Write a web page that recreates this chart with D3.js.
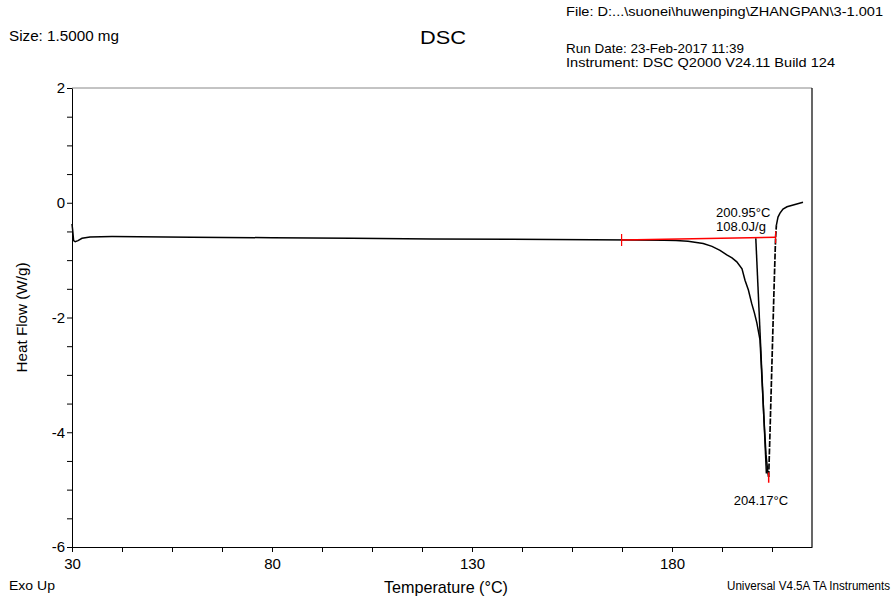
<!DOCTYPE html>
<html>
<head>
<meta charset="utf-8">
<script src="https://cdn.jsdelivr.net/npm/d3@7"></script>
<style>
  body { margin: 0; background: #fff; }
  svg { font-family: "Liberation Sans", Arial, sans-serif; }
</style>
</head>
<body>
<svg class="chart"></svg>
<script>
// heat flow curve (deg C, W/g)
var temps = [30.0, 30.2, 30.4, 30.8, 31.5, 32.5, 34.5, 40, 60, 80, 100, 120, 140, 160, 170, 178, 181,
             184, 187.8, 190, 192, 193.7, 195, 196.2, 197.5, 198.25, 199.1, 199.9, 200.6, 201.2, 202,
             202.5, 203, 203.5, 204.0, 204.17];
var flow  = [-0.37, -0.5, -0.66, -0.68, -0.66, -0.62, -0.595, -0.59, -0.6, -0.61, -0.62, -0.63, -0.635, -0.645, -0.65, -0.655, -0.66,
             -0.67, -0.71, -0.76, -0.83, -0.91, -0.96, -1.03, -1.15, -1.35, -1.52, -1.75, -1.92, -2.09, -2.39,
             -3.09, -3.78, -4.39, -4.72, -4.78];
// return side of the peak: steep part (dashed) and the knee back to the baseline
var riseTemps = [204.17, 204.5, 205.0, 205.5, 205.9, 206.1];
var riseFlow  = [-4.78, -4.0, -2.76, -1.52, -0.6, -0.39];
var tailTemps = [206.1, 206.5, 207.0, 207.75, 208.75, 210.75, 212.75];
var tailFlow  = [-0.39, -0.25, -0.18, -0.11, -0.07, -0.03, 0.01];

// analysis lines
var onsetLine = [[200.95, -0.62], [203.6, -4.72]];
var baseLine = [[167.4, -0.65], [205.9, -0.60]];
var peakMark = [[204.17, -4.70], [204.17, -4.88]];

var xMajor = [30, 80, 130, 180];
var yMajor = [-6, -4, -2, 0, 2];

var width = 896, height = 597;
var margin = {top: 88, right: 84, bottom: 50, left: 72};

var x = d3.scaleLinear().domain([30, 215]).range([margin.left, width - margin.right]);
var y = d3.scaleLinear().domain([-6, 2]).range([height - margin.bottom, margin.top]);

var svg = d3.select(".chart")
    .attr("width", width)
    .attr("height", height);

// frame: gray top, black right
svg.append("line")
    .attr("x1", x(30)).attr("x2", x(215))
    .attr("y1", y(2)).attr("y2", y(2))
    .attr("stroke", "#888").attr("stroke-width", 1);
svg.append("line")
    .attr("x1", x(215)).attr("x2", x(215))
    .attr("y1", y(2)).attr("y2", y(-6))
    .attr("stroke", "#000").attr("stroke-width", 1.2);

var xTicks = d3.range(30, 215, 12.5);
var xAxis = d3.axisBottom(x)
    .tickValues(xTicks)
    .tickSize(5)
    .tickSizeOuter(0)
    .tickFormat(function(d) { return xMajor.indexOf(d) >= 0 ? d : ""; });

svg.append("g")
    .attr("transform", "translate(0," + y(-6) + ")")
    .call(xAxis)
    .call(function(g) {
      g.selectAll("text").attr("font-size", 15).attr("fill", "#000").attr("dy", "0.95em");
      g.selectAll("line, path").attr("stroke", "#000");
    });

var yTicks = d3.range(-6, 2.01, 0.5);
var yAxis = d3.axisLeft(y)
    .tickValues(yTicks)
    .tickSize(5)
    .tickSizeOuter(0)
    .tickFormat(function(d) { return yMajor.indexOf(d) >= 0 ? d : ""; });

svg.append("g")
    .attr("transform", "translate(" + x(30) + ",0)")
    .call(yAxis)
    .call(function(g) {
      g.selectAll("text").attr("font-size", 15).attr("fill", "#000").attr("x", -7);
      g.selectAll("line, path").attr("stroke", "#000");
    });

var line = d3.line()
    .x(function(d) { return x(d[0]); })
    .y(function(d) { return y(d[1]); });

var curve = temps.map(function(t, i) { return [t, flow[i]]; });
var rise = riseTemps.map(function(t, i) { return [t, riseFlow[i]]; });
var tail = tailTemps.map(function(t, i) { return [t, tailFlow[i]]; });

svg.append("path")
    .datum(curve)
    .attr("d", line)
    .attr("fill", "none")
    .attr("stroke", "#000")
    .attr("stroke-width", 1.5);

svg.append("path")
    .datum(rise)
    .attr("d", line)
    .attr("fill", "none")
    .attr("stroke", "#000")
    .attr("stroke-width", 1.7)
    .attr("stroke-dasharray", "6,1.5");

svg.append("path")
    .datum(tail)
    .attr("d", line)
    .attr("fill", "none")
    .attr("stroke", "#000")
    .attr("stroke-width", 1.5);

svg.append("path")
    .datum(onsetLine)
    .attr("d", line)
    .attr("fill", "none")
    .attr("stroke", "#000")
    .attr("stroke-width", 1.5);

svg.append("path")
    .datum(baseLine)
    .attr("d", line)
    .attr("fill", "none")
    .attr("stroke", "#f00")
    .attr("stroke-width", 1.5);

// end marks on the baseline
svg.selectAll(".endmark")
    .data(baseLine)
  .enter().append("line")
    .attr("x1", function(d) { return x(d[0]); })
    .attr("x2", function(d) { return x(d[0]); })
    .attr("y1", function(d) { return y(d[1]) - 6; })
    .attr("y2", function(d) { return y(d[1]) + 6; })
    .attr("stroke", "#f00")
    .attr("stroke-width", 1.2);

svg.append("path")
    .datum(peakMark)
    .attr("d", line)
    .attr("stroke", "#f00")
    .attr("stroke-width", 1.5);

// annotations
svg.append("text").attr("x", 716).attr("y", 217).attr("font-size", 13).text("200.95°C");
svg.append("text").attr("x", 716).attr("y", 231).attr("font-size", 13).text("108.0J/g");
svg.append("text").attr("x", 761).attr("y", 505).attr("font-size", 13)
    .attr("text-anchor", "middle").text("204.17°C");

// header
function label(tx, ty, size, len, s, anchor) {
  var t = svg.append("text")
      .attr("x", tx).attr("y", ty)
      .attr("font-size", size)
      .attr("text-anchor", anchor || "start")
      .attr("textLength", len)
      .attr("lengthAdjust", "spacingAndGlyphs")
      .text(s);
  return t;
}
label(9, 41, 14, 110, "Size:  1.5000 mg");
label(443, 44, 19, 46, "DSC", "middle");
label(566, 16, 13.5, 317, "File: D:...\\suonei\\huwenping\\ZHANGPAN\\3-1.001");
label(566, 53, 13, 178, "Run Date: 23-Feb-2017 11:39");
label(566, 67, 13, 269, "Instrument: DSC Q2000 V24.11 Build 124");

// footer
label(9, 590, 12.5, 46, "Exo Up");
label(446, 593, 17, 124, "Temperature (°C)", "middle");
label(890, 590, 12.5, 163, "Universal V4.5A TA Instruments", "end");

svg.append("text")
    .attr("transform", "translate(27," + y(-2) + ") rotate(-90)")
    .attr("text-anchor", "middle")
    .attr("font-size", 15)
    .attr("textLength", 110)
    .attr("lengthAdjust", "spacingAndGlyphs")
    .text("Heat Flow (W/g)");
</script>
</body>
</html>
